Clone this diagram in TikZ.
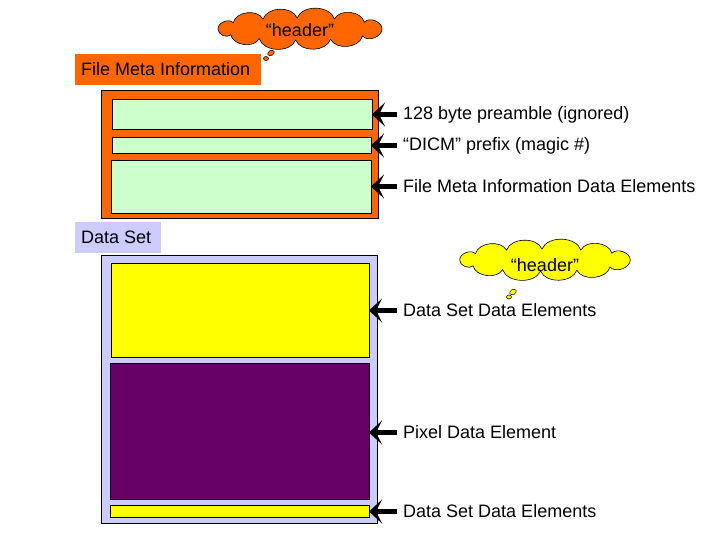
\documentclass[tikz,border=0pt]{standalone}
\usepackage{fontspec}
\setmainfont{Liberation Sans}
\usetikzlibrary{shapes.geometric,arrows.meta}
\definecolor{dorange}{HTML}{FF6600}
\definecolor{dgreen}{HTML}{CCFFCC}
\definecolor{dlav}{HTML}{CCCCFF}
\definecolor{dyellow}{HTML}{FFFF00}
\definecolor{dpurple}{HTML}{660066}
\tikzset{
  blk/.style={draw=black, line width=0.8pt, anchor=north west, inner sep=0pt, outer sep=0pt},
  tag/.style={anchor=north west, inner sep=0pt, outer sep=0pt},
  lbl/.style={anchor=west, inner sep=0pt, font=\fontsize{18}{20}\selectfont},
  fatarrow/.style={draw=black, line width=5pt, -{Stealth[length=13pt,width=24pt,inset=6pt]}},
  cloudtext/.style={inner sep=0pt, font=\fontsize{18}{20}\selectfont},
  bub/.style={ellipse, draw=black, line width=0.5pt, inner sep=0pt},
  puff/.style={bend left=70},
  cloudpic/.pic={
    \filldraw[pic actions, draw=black, line width=0.6pt]
      (82,0) to[puff] (62.5,7.0) to[puff] (30.6,10.2) to[puff] (-4.3,11.0)
      to[puff] (-40.8,9.6) to[puff] (-69.2,5.8) to[puff] (-82,0)
      to[puff] (-66.8,-6.3) to[puff] (-37.0,-9.8) to[puff] (-2.9,-11.0)
      to[puff] (34.5,-10.0) to[puff] (64.3,-6.8) to[puff] (82,0) -- cycle;
  },
}
\begin{document}
\begin{tikzpicture}[x=1pt,y=-1pt]
\useasboundingbox (0,0) rectangle (720,540);
% header cloud (orange)
\coordinate (c1pos) at (300,29);
\pic[fill=dorange] at (c1pos) {cloudpic};
\node[cloudtext] (c1) at ([yshift=-1pt]c1pos) {“header”};
\node[bub, fill=dorange, minimum width=7pt, minimum height=5pt, rotate=30] (c1a) at (271,53) {};
\node[bub, fill=dorange, minimum width=5pt, minimum height=4pt] (c1b) at (266,58.5) {};
% File Meta Information tag
\node[tag, fill=dorange, minimum width=186pt, minimum height=31pt] (fmitag) at (75,54) {};
\node[lbl] (fmitxt) at (81,69.5) {File Meta Information};
% outer orange box
\node[blk, fill=dorange, minimum width=277pt, minimum height=128pt] (fmi) at (101,90) {};
\node[blk, fill=dgreen, minimum width=260pt, minimum height=30pt] (g1) at (112,99) {};
\node[blk, fill=dgreen, minimum width=259pt, minimum height=16pt] (g2) at (112,137) {};
\node[blk, fill=dgreen, minimum width=260pt, minimum height=53pt] (g3) at (111,160) {};
% Data Set tag
\node[tag, fill=dlav, minimum width=86pt, minimum height=31pt] (dstag) at (75,222) {};
\node[lbl] (dstxt) at (81,237.5) {Data Set};
% outer lavender box
\node[blk, fill=dlav, minimum width=276pt, minimum height=268pt] (ds) at (101,255) {};
\node[blk, fill=dyellow, minimum width=258pt, minimum height=94pt] (y1) at (111,263) {};
\node[blk, fill=dpurple, minimum width=259pt, minimum height=136pt] (px) at (110,363) {};
\node[blk, fill=dyellow, minimum width=259pt, minimum height=12pt] (y2) at (110,505) {};
% yellow cloud
\coordinate (c2pos) at (545,260);
\pic[fill=dyellow, xscale=1.04] at (c2pos) {cloudpic};
\node[cloudtext] (c2) at ([yshift=-5pt]c2pos) {“header”};
\node[bub, fill=dyellow, minimum width=7pt, minimum height=5pt, rotate=30] (c2a) at (513,292) {};
\node[bub, fill=dyellow, minimum width=5pt, minimum height=4pt] (c2b) at (509,297) {};
% labels
\node[lbl] (l1) at (403,114.5) {128 byte preamble (ignored)};
\node[lbl] (l2) at (403,145.5) {“DICM” prefix (magic \#)};
\node[lbl] (l3) at (403,186.5) {File Meta Information Data Elements};
\node[lbl] (l4) at (403,310.5) {Data Set Data Elements};
\node[lbl] (l5) at (403,432.5) {Pixel Data Element};
\node[lbl] (l6) at (403,511.5) {Data Set Data Elements};
% arrows
\draw[fatarrow] ([xshift=-6pt]l1.west) -- (g1.east |- l1.west);
\draw[fatarrow] ([xshift=-6pt]l2.west) -- (g2.east |- l2.west);
\draw[fatarrow] ([xshift=-6pt]l3.west) -- (g3.east |- l3.west);
\draw[fatarrow] ([xshift=-6pt]l4.west) -- (y1.east |- l4.west);
\draw[fatarrow] ([xshift=-6pt]l5.west) -- (px.east |- l5.west);
\draw[fatarrow] ([xshift=-6pt]l6.west) -- (y2.east |- l6.west);
\end{tikzpicture}
\end{document}
